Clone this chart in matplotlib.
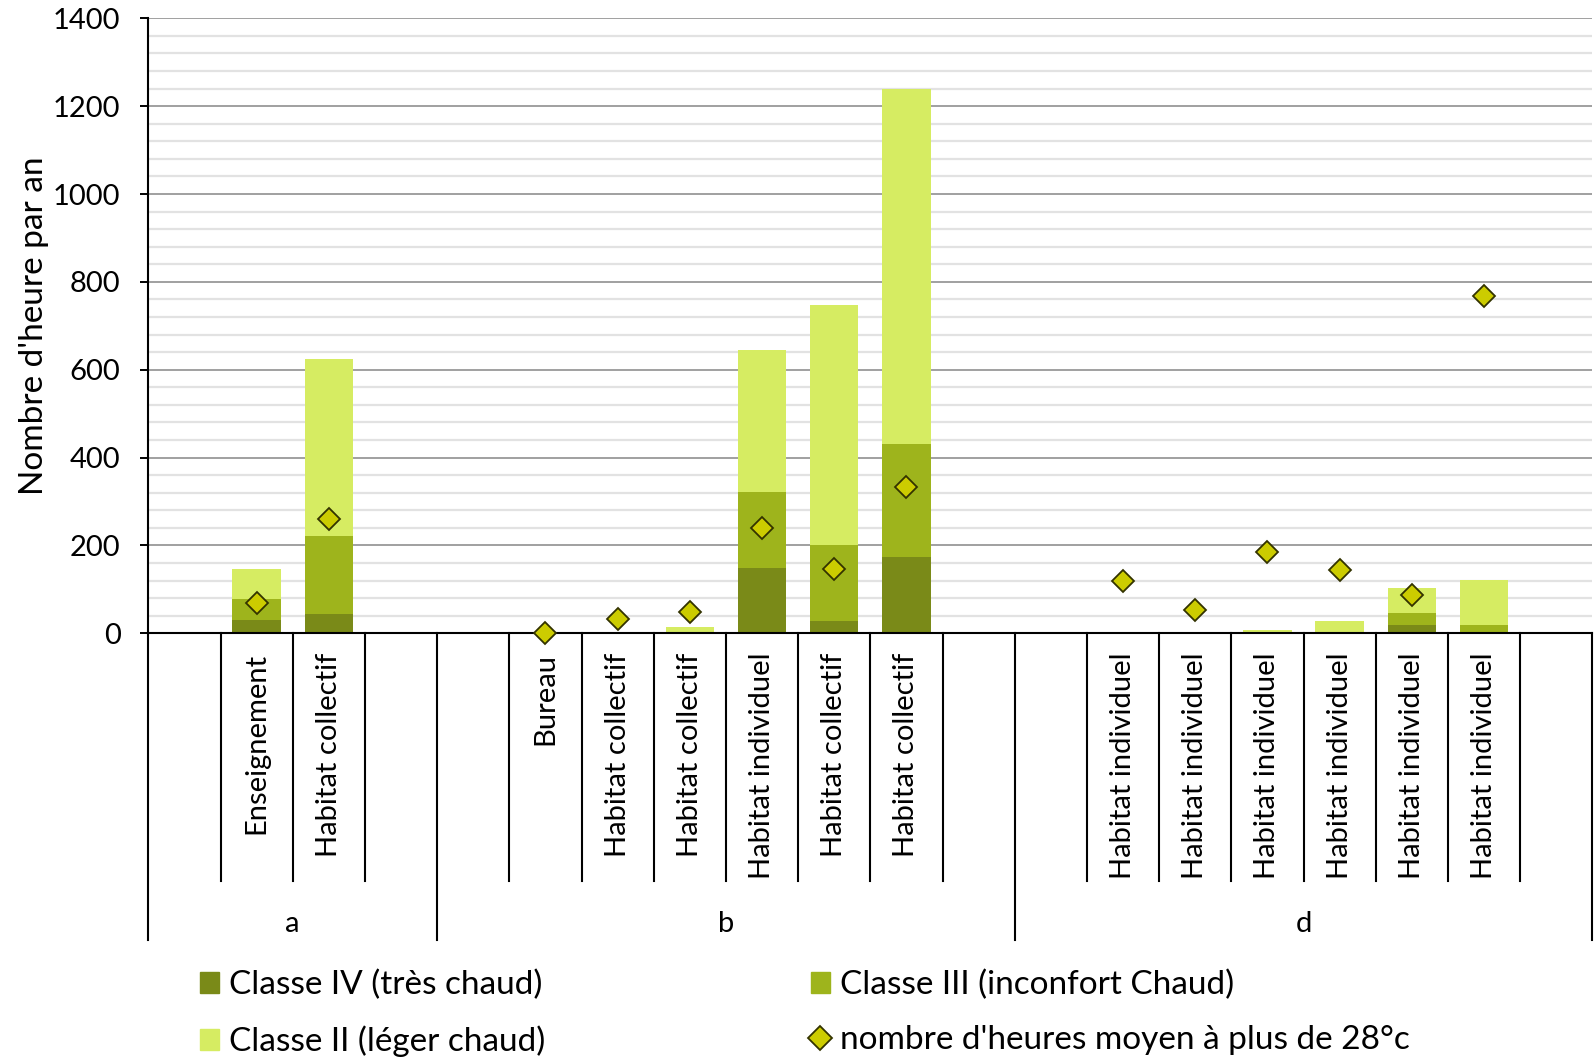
import numpy as np
import matplotlib
matplotlib.use("Agg")
import matplotlib.pyplot as plt
from matplotlib.ticker import MultipleLocator
from matplotlib.patches import Patch
from matplotlib.lines import Line2D

plt.rcParams['font.family'] = ['Lato', 'DejaVu Sans']

nan = np.nan

# Building types, one slot per position on the category axis (blank slots pad the groups)
categories = ["", "Enseignement", "Habitat collectif", "",
              "", "Bureau", "Habitat collectif", "Habitat collectif", "Habitat individuel",
              "Habitat collectif", "Habitat collectif", "",
              "", "Habitat individuel", "Habitat individuel", "Habitat individuel",
              "Habitat individuel", "Habitat individuel", "Habitat individuel", ""]
groups = ["a", "b", "d"]
group_sizes = [4, 8, 8]

# Hours per year in each comfort class (segment heights of the stacked bars)
classe_iv = [nan, 31, 43, nan,
             nan, 0, 0, 0, 149, 29, 173, nan,
             nan, 0, 0, 0, 0, 20, 0, nan]
classe_iii = [nan, 46, 179, nan,
              nan, 0, 0, 0, 172, 172, 259, nan,
              nan, 0, 0, 0, 0, 26, 20, nan]
classe_ii = [nan, 69, 402, nan,
             nan, 0, 2, 15, 325, 546, 808, nan,
             nan, 0, 1, 8, 29, 57, 101, nan]
# Mean number of hours above 28 °C
heures_28 = [nan, 69, 260, nan,
             nan, 0, 33, 48, 239, 146, 334, nan,
             nan, 118, 54, 184, 144, 87, 767, nan]

c_iv = "#7a8a18"
c_iii = "#9eb41c"
c_ii = "#d6ec62"
c_diamond = "#cccc00"

W, H = 1595, 1057
fig = plt.figure(figsize=(W / 100, H / 100), dpi=100)
ax_left, ax_right, ax_top, ax_bottom = 148.3, 1592.3, 18.3, 633.3
ax = fig.add_axes([ax_left / W, 1 - ax_bottom / H,
                   (ax_right - ax_left) / W, (ax_bottom - ax_top) / H])

x = np.arange(len(categories))
iv = np.array(classe_iv, dtype=float)
iii = np.array(classe_iii, dtype=float)
ii = np.array(classe_ii, dtype=float)
bw = 0.67
ax.bar(x, iv, bw, color=c_iv, zorder=2, label="Classe IV (très chaud)")
ax.bar(x, iii, bw, bottom=iv, color=c_iii, zorder=2, label="Classe III (inconfort Chaud)")
ax.bar(x, ii, bw, bottom=iv + iii, color=c_ii, zorder=2, label="Classe II (léger chaud)")
ax.plot(x, heures_28, linestyle="none", marker="D", markersize=11.5,
        markerfacecolor=c_diamond, markeredgecolor="#333300", markeredgewidth=1.3,
        zorder=3, clip_on=False, label="nombre d'heures moyen à plus de 28°c")

ax.set_xlim(-0.5, len(categories) - 0.5)
ax.set_ylim(0, 1400)
ax.yaxis.set_major_locator(MultipleLocator(200))
ax.yaxis.set_minor_locator(MultipleLocator(40))
ax.grid(which="major", axis="y", color="#a0a0a0", linewidth=1.4, zorder=0)
ax.grid(which="minor", axis="y", color="#e2e2e2", linewidth=1.6, zorder=0)
ax.set_axisbelow(True)

ax.tick_params(axis="y", which="major", direction="out", length=6, width=1.4,
               labelsize=21, pad=14, colors="black")
ax.tick_params(axis="y", which="minor", length=0)
ax.set_xticks(x)
ax.set_xticklabels(categories, rotation=90, ha="center", va="top", fontsize=21)
ax.tick_params(axis="x", length=0, pad=14)

for side in ("top", "right"):
    ax.spines[side].set_visible(False)
ax.spines["left"].set_linewidth(1.5)
ax.spines["bottom"].set_linewidth(1.5)

ax.set_ylabel("Nombre d'heure par an", fontsize=24, labelpad=3)

# Category separators and group separators below the axis
trans = ax.get_xaxis_transform()
inner_depth = -(881 - ax_bottom) / (ax_bottom - ax_top)
group_depth = -(940 - ax_bottom) / (ax_bottom - ax_top)
group_edges = np.cumsum([0] + group_sizes) - 0.5
for b in np.arange(len(categories) + 1) - 0.5:
    depth = group_depth if np.any(np.isclose(group_edges, b)) else inner_depth
    ax.plot([b, b], [0, depth], color="black", linewidth=1.5,
            transform=trans, clip_on=False, zorder=4)

label_y = -(924 - ax_bottom) / (ax_bottom - ax_top)
for g, lo, hi in zip(groups, group_edges[:-1], group_edges[1:]):
    ax.text((lo + hi) / 2, label_y, g, transform=trans, ha="center", va="center",
            fontsize=21)

handles = [Patch(color=c_iv), Patch(color=c_ii), Patch(color=c_iii),
           Line2D([], [], linestyle="none", marker="D", markersize=12.5,
                  markerfacecolor=c_diamond, markeredgecolor="#333300",
                  markeredgewidth=1.3)]
labels = ["Classe IV (très chaud)", "Classe II (léger chaud)",
          "Classe III (inconfort Chaud)", "nombre d'heures moyen à plus de 28°c"]
fig.legend(handles, labels, ncol=2, loc="upper left",
           bbox_to_anchor=(200 / W, 1 - 970 / H), frameon=False, fontsize=24,
           handlelength=0.58, handleheight=0.58, handletextpad=0.3,
           columnspacing=7.95, labelspacing=0.75, borderaxespad=0, borderpad=0)

fig.savefig("out.png", dpi=100)
